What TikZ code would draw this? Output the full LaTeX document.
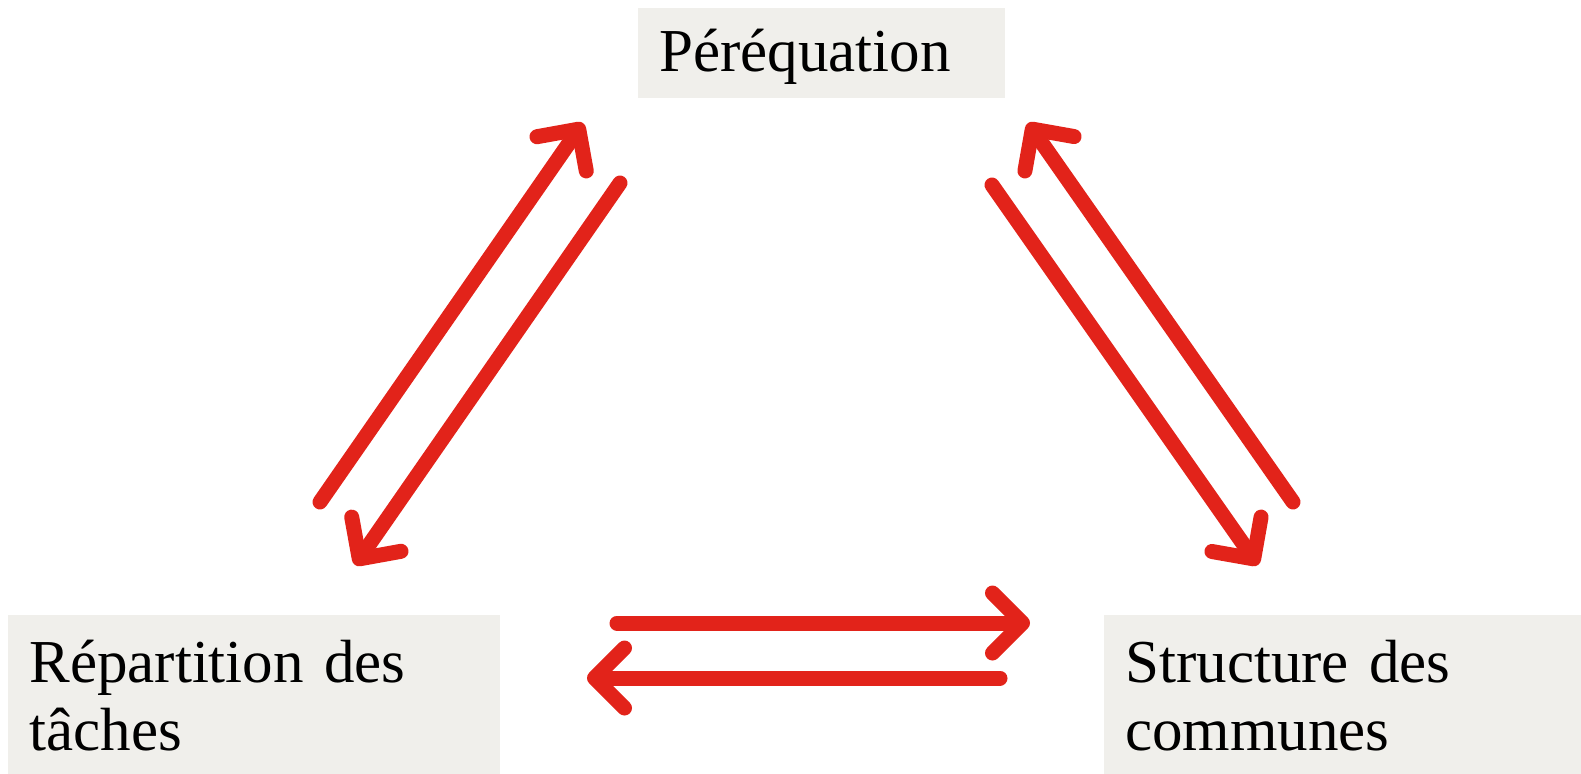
\documentclass[tikz,border=0pt]{standalone}
\usepackage{fontspec}
\setmainfont{Liberation Serif}
\usetikzlibrary{arrows.meta}
\definecolor{boxgrey}{RGB}{240,239,235}
\definecolor{flowred}{RGB}{226,35,26}
\begin{document}
\begin{tikzpicture}[x=0.5pt,y=-0.5pt,
  box/.style={fill=boxgrey,anchor=north west,align=left,
    font=\fontsize{30.5}{34}\selectfont,inner xsep=10.5pt,inner ysep=0pt},
  oneline/.style={box,minimum height=45pt,text depth=3pt},
  twoline/.style={box,inner ysep=12.5pt},
  flow/.style={draw=flowred,line width=7.5pt,line cap=round,
    -{Straight Barb[length=15pt,width=30pt,round]}}]
\useasboundingbox (0,0) rectangle (1581,773);
\node[oneline,minimum width=183.5pt,text width=162.5pt]
  (perequation) at (638,8) {Péréquation};
\node[twoline,minimum width=246pt,text width=225pt]
  (repartition) at (8,615) {Répartition des\\tâches};
\node[twoline,minimum width=238.5pt,text width=217.5pt]
  (structure) at (1104,615) {Structure des\\communes};
\coordinate (rp-a) at (320,502);
\coordinate (rp-b) at (583,123);
\coordinate (pr-a) at (620,183);
\coordinate (pr-b) at (355,565);
\coordinate (ps-a) at (992,185);
\coordinate (ps-b) at (1258,565);
\coordinate (sp-a) at (1293,502);
\coordinate (sp-b) at (1028,123);
\coordinate (rs-a) at (617,623);
\coordinate (rs-b) at (1030,623);
\coordinate (sr-a) at (1000,678);
\coordinate (sr-b) at (587,678);
\draw[flow] (rp-a) -- (rp-b);
\draw[flow] (pr-a) -- (pr-b);
\draw[flow] (ps-a) -- (ps-b);
\draw[flow] (sp-a) -- (sp-b);
\draw[flow] (rs-a) -- (rs-b);
\draw[flow] (sr-a) -- (sr-b);
\end{tikzpicture}
\end{document}
